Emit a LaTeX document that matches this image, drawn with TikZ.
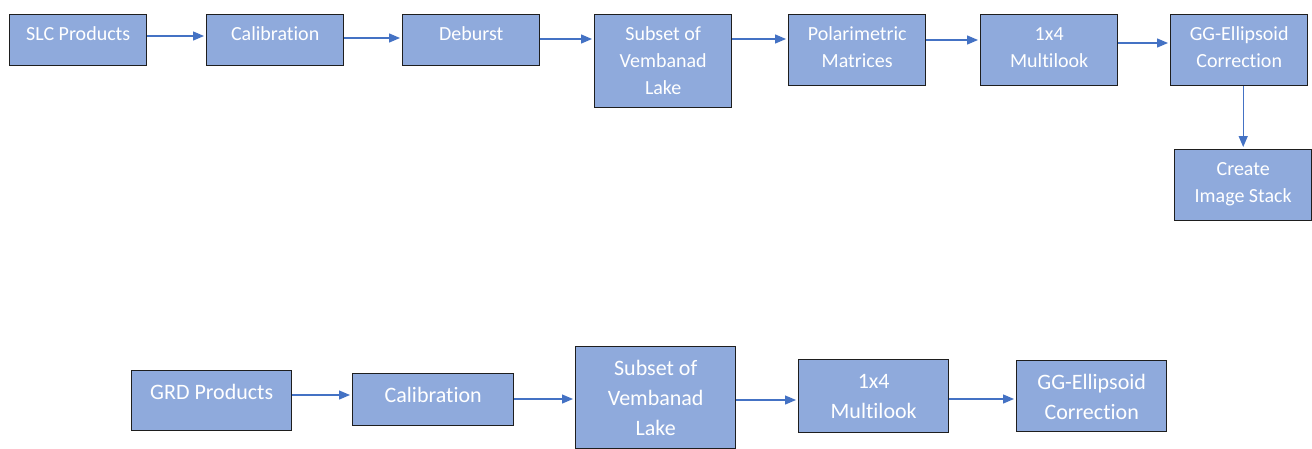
\documentclass[tikz,border=0pt]{standalone}
\usepackage{fontspec}
\setmainfont{Carlito}[RawFeature=-liga]
\usepackage{tikz}
\usetikzlibrary{arrows.meta, positioning}
\usepackage{xcolor}
\definecolor{boxblue}{RGB}{143, 170, 220}
\definecolor{boxline}{RGB}{30, 30, 30}
\definecolor{arrowblue}{RGB}{68, 114, 196}

\begin{document}
\begin{tikzpicture}[
    x=1pt, y=-1pt,
    box/.style={rectangle, draw=boxline, fill=boxblue, line width=1.4pt, text=white, align=flush center, inner sep=0pt, anchor=north west},
    toprow/.style={box, font=\fontsize{20}{27}\selectfont, text height=26pt},
    botrow/.style={box, font=\fontsize{22}{30}\selectfont, text height=29pt},
    arrow/.style={-{Triangle[length=11pt, width=9pt]}, line width=1.3pt, color=arrowblue, shorten >=2pt},
]
\useasboundingbox (0,0) rectangle (1312,448);

% SLC chain
\node[toprow, text width=137pt, text depth=25pt] (slc) at (9,14) {SLC Products};
\node[toprow, text width=137pt, text depth=25pt] (slccal) at (206,14) {Calibration};
\node[toprow, text width=137pt, text depth=25pt] (deburst) at (402,14) {Deburst};
\node[toprow, text width=137pt, text depth=67pt] (slcsub) at (594,14) {Subset of\\Vembanad\\Lake};
\node[toprow, text width=137pt, text depth=45pt] (polmat) at (788,14) {Polarimetric\\Matrices};
\node[toprow, text width=137pt, text depth=45pt] (slcml) at (980,14) {1x4\\Multilook};
\node[toprow, text width=137pt, text depth=45pt] (slcgg) at (1170,14) {GG-Ellipsoid\\Correction};
\node[toprow, text width=137pt, text depth=45pt] (stack) at (1174,149) {Create\\Image Stack};

\draw[arrow] ([yshift=-22pt]slc.north east) -- ([yshift=-22pt]slccal.north west);
\draw[arrow] ([yshift=-24pt]slccal.north east) -- ([yshift=-24pt]deburst.north west);
\draw[arrow] ([yshift=-25pt]deburst.north east) -- ([yshift=-25pt]slcsub.north west);
\draw[arrow] ([yshift=-25pt]slcsub.north east) -- ([yshift=-25pt]polmat.north west);
\draw[arrow] ([yshift=-26pt]polmat.north east) -- ([yshift=-26pt]slcml.north west);
\draw[arrow] ([yshift=-29pt]slcml.north east) -- ([yshift=-29pt]slcgg.north west);
\draw[arrow] (slcgg.south -| stack.north) -- (stack.north);

% GRD chain
\node[botrow, text width=160pt, text depth=31pt] (grd) at (131,370) {GRD Products};
\node[botrow, text width=161pt, text depth=23pt] (grdcal) at (352,373) {Calibration};
\node[botrow, text width=160pt, text depth=73pt] (grdsub) at (575,346) {Subset of\\Vembanad\\Lake};
\node[botrow, text width=150pt, text depth=44pt] (grdml) at (798,359) {1x4\\Multilook};
\node[botrow, text width=150pt, text depth=42pt] (grdgg) at (1016,360) {GG-Ellipsoid\\Correction};

\draw[arrow] ([yshift=-25pt]grd.north east) -- ([yshift=-25pt]grd.north east -| grdcal.west);
\draw[arrow] ([yshift=-26pt]grdcal.north east) -- ([yshift=-26pt]grdcal.north east -| grdsub.west);
\draw[arrow] ([yshift=-41pt]grdml.north west -| grdsub.east) -- ([yshift=-41pt]grdml.north west);
\draw[arrow] ([yshift=-40pt]grdml.north east) -- ([yshift=-40pt]grdml.north east -| grdgg.west);

\end{tikzpicture}
\end{document}
